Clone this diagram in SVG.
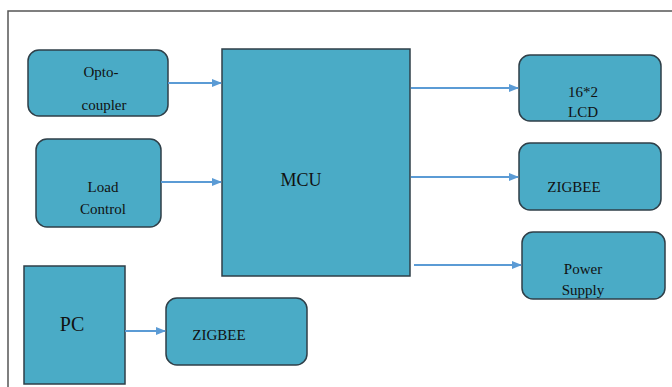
<svg xmlns="http://www.w3.org/2000/svg" width="672" height="387" viewBox="0 0 672 387">
<style>
.box{fill:#4aabc6;stroke:#2f3f48;stroke-width:1.5}
.t{font-family:"Liberation Serif","Times New Roman",serif;font-size:15px;fill:#111;text-anchor:middle}
.c{stroke:#5b9bd5;stroke-width:2;fill:none;marker-end:url(#ah)}
</style>
<defs>
<marker id="ah" markerWidth="10" markerHeight="8" refX="9" refY="4" orient="auto" markerUnits="userSpaceOnUse">
<path d="M0,0 L10,4 L0,8 Z" fill="#5b9bd5"/>
</marker>
</defs>
<rect width="672" height="387" fill="#fff"/>
<path d="M8,400 V11 H680" fill="none" stroke="#555" stroke-width="1.5"/>
<g id="opto"><rect class="box" x="28" y="50" width="140" height="66" rx="11"/><text class="t" x="101" y="77">Opto-</text><text class="t" x="104" y="110">coupler</text></g>
<g id="load"><rect class="box" x="36" y="139" width="125" height="88" rx="11"/><text class="t" x="103" y="192">Load</text><text class="t" x="103" y="214">Control</text></g>
<g id="mcu"><rect class="box" x="222" y="49" width="188" height="227"/><text class="t" x="301" y="186" style="font-size:18px">MCU</text></g>
<g id="lcd"><rect class="box" x="519" y="55" width="142" height="66" rx="11"/><text class="t" x="583" y="97">16*2</text><text class="t" x="583" y="117">LCD</text></g>
<g id="zigbee1"><rect class="box" x="519" y="143" width="142" height="67" rx="11"/><text class="t" x="574" y="192">ZIGBEE</text></g>
<g id="power"><rect class="box" x="522" y="232" width="143" height="67" rx="11"/><text class="t" x="583" y="274">Power</text><text class="t" x="583" y="295">Supply</text></g>
<g id="pc"><rect class="box" x="24" y="266" width="101" height="118"/><text class="t" x="72" y="331" style="font-size:20px">PC</text></g>
<g id="zigbee2"><rect class="box" x="166" y="298" width="141" height="67" rx="11"/><text class="t" x="219" y="340">ZIGBEE</text></g>
<g id="connectors">
<line class="c" x1="168" y1="83" x2="221" y2="83"/>
<line class="c" x1="161" y1="182" x2="221" y2="182"/>
<line class="c" x1="411" y1="88" x2="518" y2="88"/>
<line class="c" x1="411" y1="177" x2="518" y2="177"/>
<line class="c" x1="414" y1="265" x2="521" y2="265"/>
<line class="c" x1="125" y1="331" x2="165" y2="331"/>
</g>
</svg>
